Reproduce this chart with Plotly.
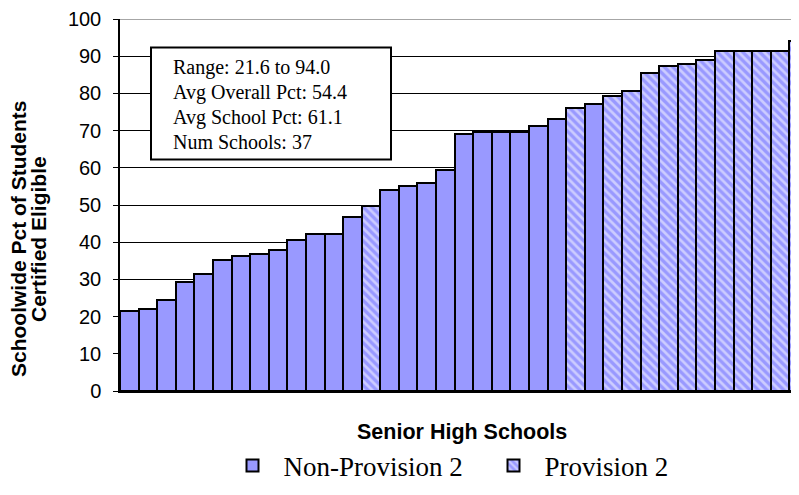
import plotly.graph_objects as go

# ---- data ----
schools = list(range(37))
pct = [21.6, 22.0, 24.5, 29.4, 31.5, 35.3, 36.3, 36.9, 37.9, 40.6, 42.2, 42.2, 46.9,
       49.8, 54.0, 55.2, 55.8, 59.4, 69.2, 69.6, 69.6, 69.6, 71.3, 73.0,
       76.2, 77.2, 79.4, 80.6, 85.4, 87.4, 88.0, 89.1, 91.3, 91.3, 91.3, 91.3, 94.0]
provision2 = [0] * 13 + [1] + [0] * 10 + [1, 0] + [1] * 11
series_names = ["Non-Provision 2", "Provision 2"]
box_lines = ["Range: 21.6 to 94.0", "Avg Overall Pct: 54.4",
             "Avg School Pct: 61.1", "Num Schools: 37"]
y_title_lines = ["Schoolwide Pct of Students", "Certified Eligible"]
x_title = "Senior High Schools"
y_ticks = list(range(0, 101, 10))

BAR = "#9999FF"
OFF = 8  # page body margin
W, H = 799 - OFF, 495 - OFF
L, R, T, B = 120 - OFF, 0, 19 - OFF, 495 - 391
PW, PH = W - L - R, H - T - B


def px_x(p):
    return (p - OFF - L) / PW


def px_y(p):
    return (H - B - (p - OFF)) / PH


fig = go.Figure()
for flag, name in enumerate(series_names):
    xs = [s for s, f in zip(schools, provision2) if f == flag]
    ys = [v for v, f in zip(pct, provision2) if f == flag]
    pattern = dict(shape="\\", fgcolor="white", bgcolor=BAR, size=6, solidity=0.45) if flag else dict(shape="")
    fig.add_trace(go.Bar(
        x=xs, y=ys, name=name, width=1.0,
        marker=dict(color=BAR, line=dict(color="black", width=2), pattern=pattern),
    ))

# top border line at 100
fig.add_shape(type="line", xref="x domain", yref="y", x0=0, x1=1, y0=100, y1=100,
              line=dict(color="#a6a6a6", width=2))
# stats box
fig.add_shape(type="rect", xref="paper", yref="paper",
              x0=px_x(151), x1=px_x(391), y0=px_y(159.5), y1=px_y(47.5),
              line=dict(color="black", width=2), fillcolor="white", layer="above")
for i, txt in enumerate(box_lines):
    fig.add_annotation(text=txt, xref="paper", yref="paper", x=px_x(171), y=px_y(67 + 25 * i),
                       xanchor="left", yanchor="middle", showarrow=False,
                       font=dict(family="Liberation Serif", size=20, color="black"))

for i, txt in enumerate(y_title_lines):
    fig.add_annotation(text=txt, xref="paper", yref="paper",
                       x=px_x(19 + 20 * i), y=px_y(239), textangle=-90,
                       xanchor="center", yanchor="middle", showarrow=False,
                       font=dict(family="Liberation Sans", size=21, color="black", weight="bold"))
fig.add_annotation(text=x_title, xref="paper", yref="paper",
                   x=px_x(461.5), y=px_y(432), xanchor="center", yanchor="middle", showarrow=False,
                   font=dict(family="Liberation Sans", size=21.5, color="black", weight="bold"))

fig.update_layout(
    width=W, height=H,
    margin=dict(l=L, r=R, t=T, b=B, pad=0, autoexpand=False),
    paper_bgcolor="white", plot_bgcolor="white",
    barmode="overlay", bargap=0,
    showlegend=True,
    legend=dict(orientation="h", x=px_x(221.5), y=px_y(466), xanchor="left", yanchor="middle",
                font=dict(family="Liberation Serif", size=27, color="black"),
                itemwidth=52, entrywidth=194, entrywidthmode="pixels",
                bgcolor="rgba(0,0,0,0)", itemclick=False, itemdoubleclick=False),
    xaxis=dict(range=[-0.5, 36.02], showticklabels=False, ticks="", showgrid=False,
               zeroline=False, showline=True, linecolor="black", linewidth=2, fixedrange=True,
               automargin=False),
    yaxis=dict(range=[0, 100], tickvals=y_ticks, ticks="outside", ticklen=5, tickcolor="black",
               tickwidth=1, showline=True, linecolor="black", linewidth=1.5,
               showgrid=True, gridcolor="black", gridwidth=1, zeroline=False,
               tickfont=dict(family="Liberation Sans", size=20, color="black"),
               ticklabelstandoff=8, fixedrange=True, automargin=False),
)

fig.write_html("out.html")
